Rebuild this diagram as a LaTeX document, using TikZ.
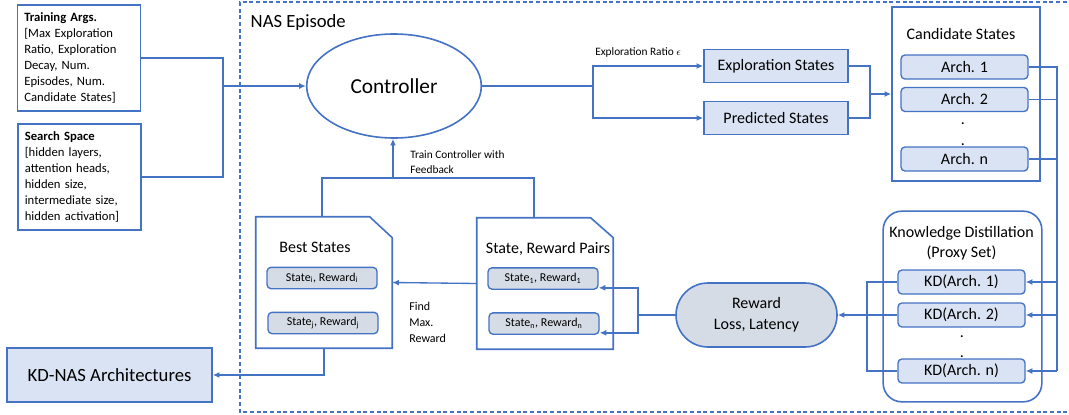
\documentclass[tikz,border=0pt]{standalone}
\usepackage{fontspec}
\setmainfont{Carlito}
\usetikzlibrary{shapes.geometric}
\usetikzlibrary{arrows.meta}
\definecolor{nasblue}{HTML}{4472C4}
\definecolor{nasfill}{HTML}{DAE3F3}
\definecolor{nasgray}{HTML}{D6DCE5}

\begin{document}
\begin{tikzpicture}[x=0.75pt,y=-0.75pt,>={Latex[length=5pt,width=4.5pt]},
  every node/.style={font=\fontsize{12}{14}\selectfont},
  wire/.style={draw=nasblue,line width=1pt},
  argbox/.style={draw=nasblue,line width=1.2pt,align=left,text width=82pt,inner xsep=5pt,minimum height=79.5pt,font=\fontsize{9.5}{12}\selectfont},
  box/.style={draw=nasblue,line width=1.2pt,fill=nasfill,minimum width=108pt,minimum height=24.75pt},
  archbox/.style={draw=nasblue,line width=1pt,fill=nasfill,rounded corners=3pt,minimum width=95.25pt,minimum height=18pt},
  statebox/.style={draw=nasblue,line width=1pt,fill=nasgray,rounded corners=3pt,minimum width=82.5pt,minimum height=16pt,font=\fontsize{9}{11}\selectfont},
  note/.style={font=\fontsize{8.5}{11.25}\selectfont,align=left,anchor=west,inner sep=0pt}]

    \useasboundingbox (0,0) rectangle (1069,414);

    % episode frame
    \draw[wire,dash pattern=on 3pt off 2pt] (1080,2) -- (240,2) -- (240,412) -- (1080,412);
    \node[anchor=west,font=\fontsize{14}{17}\selectfont] (nas) at (246,23) {NAS Episode};

    % inputs
    \node[argbox] (train) at (79,58) {\textbf{Training Args.}\\{[}Max Exploration\\Ratio, Exploration\\Decay, Num.\\Episodes, Num.\\Candidate States]};
    \node[argbox] (search) at (79.5,177) {\textbf{Search Space}\\{[}hidden layers,\\attention heads,\\hidden size,\\intermediate size,\\hidden activation]};

    \node[ellipse,draw=nasblue,line width=1.2pt,minimum width=131pt,minimum height=78pt,font=\fontsize{16}{19}\selectfont] (ctrl) at (394,86) {Controller};

    \node[box] (explore) at (776,66) {Exploration States};
    \node[box] (predict) at (776,118) {Predicted States};
    \node[note] (ratio) at (595,52) {Exploration Ratio $\epsilon$};

    % candidates
    \node[draw=nasblue,line width=1.2pt,minimum width=111pt,minimum height=130.5pt] (cand) at (966,94) {};
    \node (candtitle) at (961,34) {Candidate States};
    \node[archbox] (a1) at (964.5,67) {Arch. 1};
    \node[archbox] (a2) at (964.5,99.5) {Arch. 2};
    \node[anchor=base] (adot1) at (963,124) {.};
    \node[anchor=base] (adot2) at (963,145) {.};
    \node[archbox] (an) at (964.5,159) {Arch. n};

    % distillation
    \node[draw=nasblue,line width=1.2pt,rounded corners=14pt,minimum width=119pt,minimum height=143pt] (kd) at (962.5,306.5) {};
    \node[align=center,font=\fontsize{12}{15}\selectfont] (kdtitle) at (961.5,243) {Knowledge Distillation\\(Proxy Set)};
    \node[archbox] (k1) at (961.5,282) {KD(Arch. 1)};
    \node[archbox] (k2) at (961.5,315) {KD(Arch. 2)};
    \node[anchor=base] (kdot1) at (962,337) {.};
    \node[anchor=base] (kdot2) at (962,357) {.};
    \node[archbox] (kn) at (961.5,371) {KD(Arch. n)};

    \node[draw=nasblue,line width=1.2pt,fill=nasgray,rounded corners=24pt,minimum width=120.75pt,minimum height=48pt,align=center,font=\fontsize{12}{15.5}\selectfont] (reward) at (756.5,315) {Reward\\Loss, Latency};

    % state, reward pairs
    \node[minimum width=102pt,minimum height=98.25pt] (pairs) at (545,283.5) {};
    \draw[wire,line width=1.2pt] (pairs.south west) -- (pairs.north west) -- ([xshift=-17pt]pairs.north east) -- ([yshift=-15pt]pairs.north east) -- (pairs.south east) -- cycle;
    \node (pairstitle) at (548,249) {State, Reward Pairs};
    \node[statebox] (s1) at (543,278.5) {State\textsubscript{1}, Reward\textsubscript{1}};
    \node[statebox] (sn) at (544,323.5) {State\textsubscript{n}, Reward\textsubscript{n}};

    % best states
    \node[minimum width=102pt,minimum height=98.25pt] (best) at (324,282.5) {};
    \draw[wire,line width=1.2pt] (best.south west) -- (best.north west) -- ([xshift=-17pt]best.north east) -- ([yshift=-15.75pt]best.north east) -- (best.south east) -- cycle;
    \node (besttitle) at (315,247) {Best States};
    \node[statebox] (si) at (322,278) {State\textsubscript{i}, Reward\textsubscript{i}};
    \node[statebox] (sj) at (323,323) {State\textsubscript{j}, Reward\textsubscript{j}};

    \node[note,font=\fontsize{9}{12}\selectfont] (findmax) at (409,322) {Find\\Max.\\Reward};
    \node[note] (feedback) at (410,162) {Train Controller with\\Feedback};

    \node[draw=nasblue,line width=1.2pt,fill=nasfill,minimum width=153.75pt,minimum height=40.5pt,font=\fontsize{14}{17}\selectfont] (kdnas) at (109.5,375) {KD-NAS Architectures};

    % connectors
    \coordinate (join) at (223,86);
    \draw[wire] (train.east) -| (join);
    \draw[wire] (search.east) -| (join);
    \draw[wire,->] (join) -- (ctrl.west);

    \coordinate (split) at (593,86);
    \draw[wire] (ctrl.east) -- (split);
    \draw[wire,->] (split) |- (explore.west);
    \draw[wire,->] (split) |- (predict.west);

    \coordinate (merge) at (870,94);
    \draw[wire] (explore.east) -| (merge);
    \draw[wire] (predict.east) -| (merge);
    \draw[wire,->] (merge) -- (cand.west);

    \coordinate (rbus) at (1057,371);
    \draw[wire] (a1.east) -| (rbus);
    \draw[wire] (a2.east) -- (a2.east -| rbus);
    \draw[wire] (an.east) -- (an.east -| rbus);
    \draw[wire,->] (k1.east -| rbus) -- (k1.east);
    \draw[wire,->] (k2.east -| rbus) -- (k2.east);
    \draw[wire,->] (rbus) -- (kn.east);

    \coordinate (lbus) at (867,315);
    \draw[wire] (k1.west) -| (lbus) |- (kn.west);
    \draw[wire,->] (k2.west) -- (reward.east);

    \coordinate (pbus) at (638,315);
    \draw[wire] (reward.west) -- (pbus);
    \draw[wire,->] (pbus) |- ([yshift=-7pt]s1.east);
    \draw[wire,->] (pbus) |- ([yshift=-7pt]sn.east);

    \draw[wire,->] (pairs.west) -- (best.east);

    \coordinate (fbl) at (322,178);
    \coordinate (fbr) at (534,178);
    \coordinate (fbm) at (393,178);
    \draw[wire] (best.north -| fbl) -- (fbl) -- (fbr) -- (pairs.north -| fbr);
    \draw[wire,->] (fbm) -- (fbm |- ctrl.south);

    \draw[wire,->] (best.south) |- (kdnas.east);
  \end{tikzpicture}
\end{document}
